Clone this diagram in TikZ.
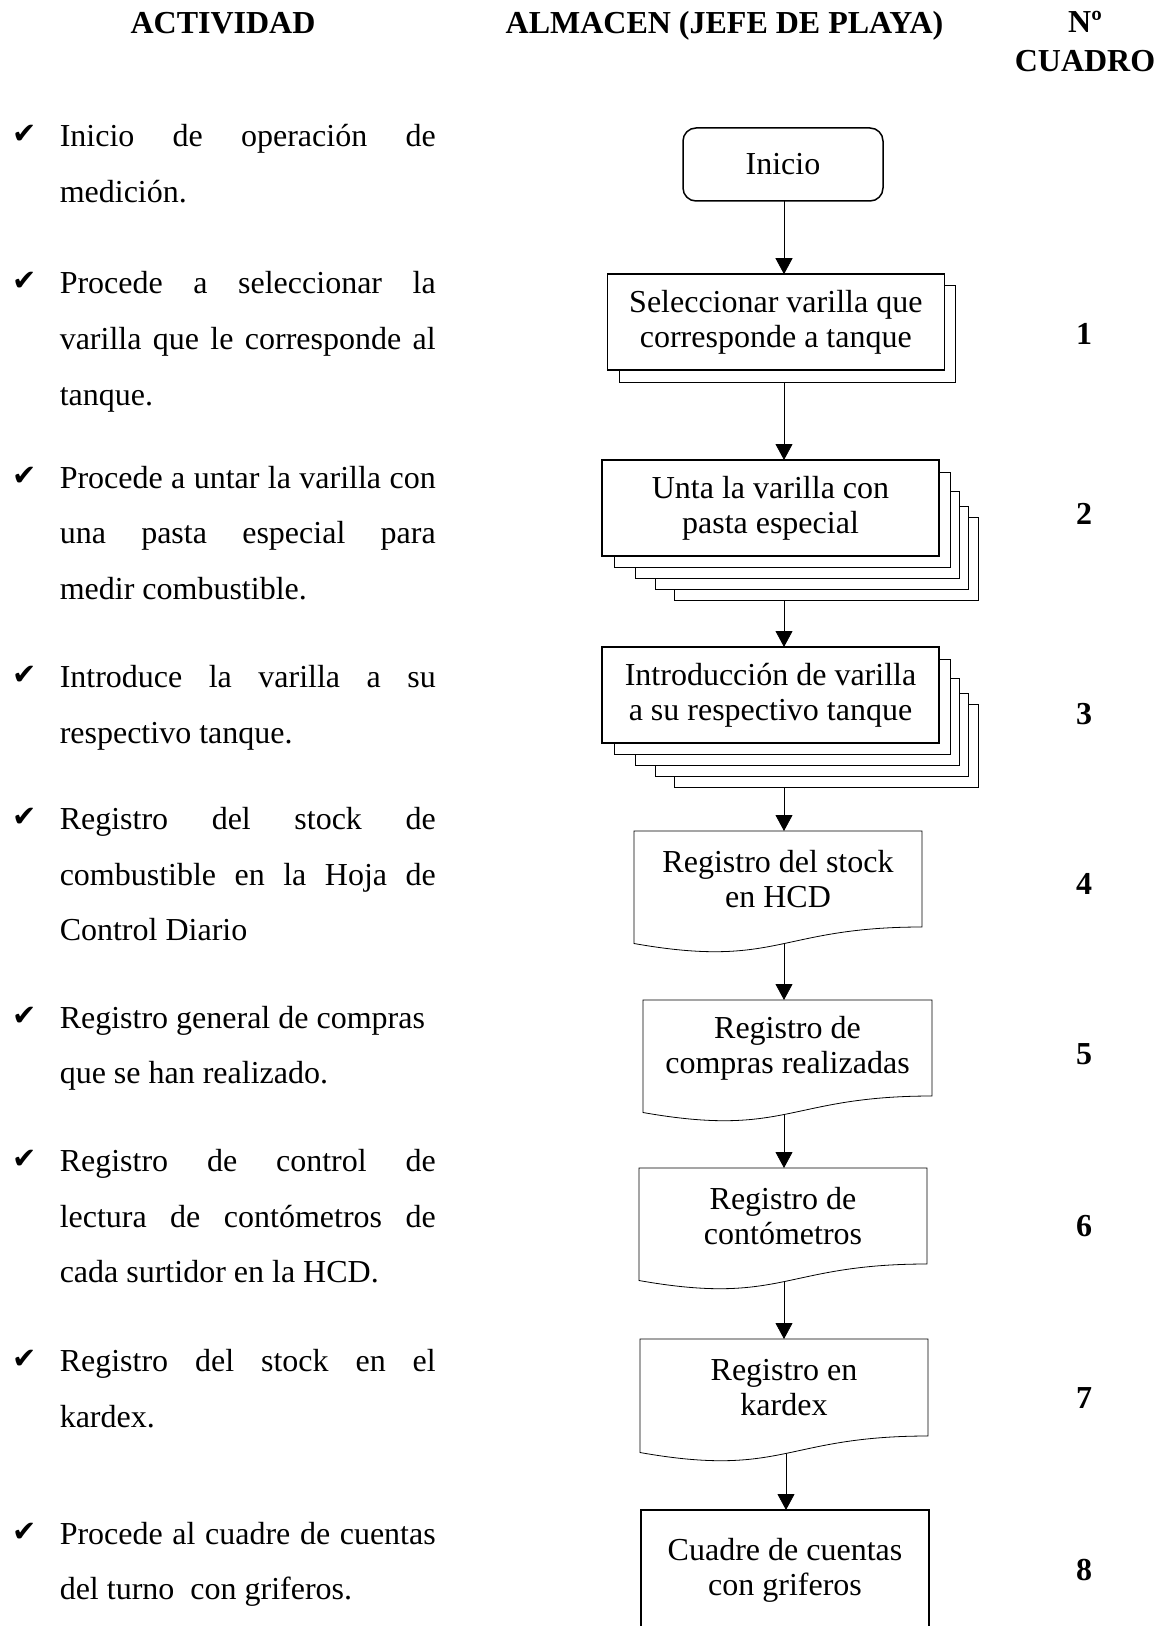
\documentclass[tikz,border=0pt]{standalone}
\usepackage{fontspec}
\setmainfont{Liberation Serif}
\newfontfamily\checkfont{DejaVu Sans}
\usetikzlibrary{arrows.meta,calc}
\pgfdeclarelayer{links}
\pgfdeclarelayer{under}
\pgfsetlayers{links,under,main}
\newlength\itemw
\setlength\itemw{188pt}
% normal interword spacing inside the activity paragraphs
\newcommand\np{\spaceskip=0pt\xspaceskip=0pt\relax}
% one justified line of an activity paragraph
\newcommand\jline[1]{\leavevmode\hbox to \itemw{\np #1}}
\frenchspacing
\begin{document}
\begin{tikzpicture}[x=0.5pt,y=-0.5pt,line width=0.75pt,
  head/.style={anchor=base,inner sep=0pt,font=\fontsize{16pt}{19pt}\selectfont\bfseries},
  num/.style={anchor=center,inner sep=0pt,font=\fontsize{16pt}{19pt}\selectfont\bfseries},
  tick/.style={anchor=base west,inner sep=0pt,font=\checkfont\fontsize{14.5pt}{14.5pt}\selectfont},
  act/.style={anchor=base west,inner sep=0pt,text width=188pt,
    font=\fontsize{16pt}{27.75pt}\selectfont},
  fbox/.style={draw,fill=white,inner sep=0pt,outer sep=0pt,align=center,
    font=\fontsize{16pt}{17.5pt}\selectfont},
  proc/.style={fbox,minimum width=168.5pt,minimum height=48pt},
  doc/.style={inner sep=0pt,outer sep=0pt,align=center,minimum width=144pt,
    minimum height=48pt,font=\fontsize{16pt}{17.5pt}\selectfont},
  link/.style={-{Triangle[length=8pt,width=8.5pt]}},
  sheet/.style={draw,fill=white},
]
\useasboundingbox (0,0) rectangle (1163,1626);
\clip (0,0) rectangle (1163,1626);

% column headings
\node[head] (hact) at (223,34) {ACTIVIDAD};
\node[head] (halm) at (724.5,34) {ALMACEN (JEFE DE PLAYA)};
\node[head] (hno) at (1085,33) {Nº};
\node[head] (hcua) at (1085,72) {CUADRO};

% activity list
\node[tick] (c1) at (12,144) {✔};
\node[act] (a1) at (59,147) {\np\jline{Inicio de operación de}\\medición.};
\node[tick] (c2) at (12,291) {✔};
\node[act] (a2) at (59,294) {\np\jline{Procede a seleccionar la}\\\jline{varilla que le corresponde al}\\tanque.};
\node[tick] (c3) at (12,485) {✔};
\node[act] (a3) at (59,488) {\np\jline{Procede a untar la varilla con}\\\jline{una pasta especial para}\\medir combustible.};
\node[tick] (c4) at (12,684.5) {✔};
\node[act] (a4) at (59,687.5) {\np\jline{Introduce la varilla a su}\\respectivo tanque.};
\node[tick] (c5) at (12,826.5) {✔};
\node[act] (a5) at (59,829.5) {\np\jline{Registro del stock de}\\\jline{combustible en la Hoja de}\\Control Diario};
\node[tick] (c6) at (12,1025) {✔};
\node[act] (a6) at (59,1028) {\np Registro general de compras\\que se han realizado.};
\node[tick] (c7) at (12,1168.5) {✔};
\node[act] (a7) at (59,1171.5) {\np\jline{Registro de control de}\\\jline{lectura de contómetros de}\\cada surtidor en la HCD.};
\node[tick] (c8) at (12,1368.7) {✔};
\node[act] (a8) at (59,1371.7) {\np\jline{Registro del stock en el}\\kardex.};
\node[tick] (c9) at (12,1541) {✔};
\node[act] (a9) at (59,1544) {\np\jline{Procede al cuadre de cuentas}\\del turno\ \ con griferos.};

% flowchart
\coordinate (spine) at (784,0);
\node[fbox,rounded corners=6.5pt,minimum width=100pt,minimum height=36.5pt] (ini) at (783,164.5) {Inicio};
\node[proc] (b1) at (775.8,322.2) {Seleccionar varilla que\\corresponde a tanque};
\node[proc] (b2) at (770.5,508) {Unta la varilla con\\pasta especial};
\node[proc] (b3) at (770.5,695) {Introducción de varilla\\a su respectivo tanque};
\node[doc] (d4) at (778,879) {Registro del stock\\en HCD};
\node[doc,minimum width=144.5pt] (d5) at (787.5,1048) {Registro de\\compras realizadas};
\node[doc] (d6) at (783,1216) {Registro de\\contómetros};
\node[doc,minimum height=48.5pt] (d7) at (784,1387.5) {Registro en\\kardex};
\node[proc,minimum width=144pt,minimum height=60pt] (b8) at (785,1570) {Cuadre de cuentas\\con griferos};

% stacked sheets behind the process boxes and document outlines
\begin{pgfonlayer}{under}
  \draw[sheet] ($(b1.north west)+(12,11.5)$) rectangle ($(b1.south east)+(11.5,12)$);
  \foreach \n in {b2,b3}{
    \foreach \dl/\dt/\dr/\db in {72/57/39/44,53/46/29/33,33/31/20/22,12/12/11/11}
      \draw[sheet] ($(\n.north west)+(\dl,\dt)$) rectangle ($(\n.south east)+(\dr,\db)$);
  }
  \foreach \n in {d4,d5,d6,d7}
    \draw[sheet] (\n.north west) -- (\n.north east) -- (\n.south east)
      .. controls (\n.south) and ($(\n.south)+(0,42)$) .. ($(\n.south west)+(0,16.5)$) -- cycle;
\end{pgfonlayer}

% connectors
\begin{pgfonlayer}{links}
  \draw[link] (ini.south -| spine) -- (b1.north -| spine);
  \draw[link] (b1.south -| spine) -- (b2.north -| spine);
  \draw[link] (b2.south -| spine) -- (b3.north -| spine);
  \draw[link] (b3.south -| spine) -- (d4.north -| spine);
  \draw[link] (d4.south -| spine) -- (d5.north -| spine);
  \draw[link] (d5.south -| spine) -- (d6.north -| spine);
  \draw[link] (d6.south -| spine) -- (d7.north -| spine);
  \draw[link] ($(d7.south -| spine)+(2,0)$) -- ($(b8.north -| spine)+(2,0)$);
\end{pgfonlayer}

% box numbers
\node[num] (n1) at (1084,333.7) {1};
\node[num] (n2) at (1084,514.1) {2};
\node[num] (n3) at (1084,714.1) {3};
\node[num] (n4) at (1084,884.1) {4};
\node[num] (n5) at (1084,1054.1) {5};
\node[num] (n6) at (1084,1226.2) {6};
\node[num] (n7) at (1084,1398.2) {7};
\node[num] (n8) at (1084,1570.3) {8};
\end{tikzpicture}
\end{document}
